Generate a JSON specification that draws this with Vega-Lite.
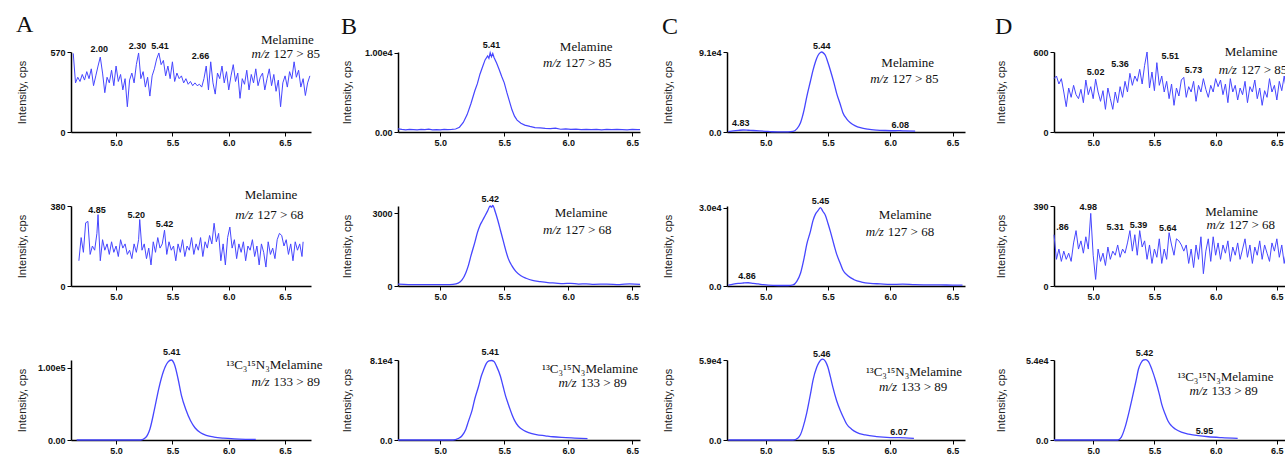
{
"$schema": "https://vega.github.io/schema/vega-lite/v6.json",
"padding": {"left": 16, "top": 13, "right": 0, "bottom": 0},
"background": "white",
"config": {
 "view": {"stroke": null},
 "axis": {"grid": false, "domainColor": "#000", "domainWidth": 1.5, "tickColor": "#000", "tickSize": 4, "tickWidth": 1, "labelFont": "Liberation Sans", "labelFontSize": 9, "labelFontWeight": "bold", "labelColor": "#111", "titleFont": "Liberation Sans", "titleFontSize": 11, "titleFontWeight": "normal", "titleColor": "#222"},
 "text": {"font": "Liberation Sans", "fontSize": 9, "fontWeight": "bold", "color": "#111"},
 "line": {"color": "#4646ff", "strokeWidth": 1},
 "title": {"font": "Liberation Serif", "fontSize": 24, "fontWeight": "normal", "anchor": "start", "frame": "bounds", "color": "#111"}
},
"datasets": {
 "A1": [{"t":4.62,"v":560},{"t":4.64,"v":350},{"t":4.66,"v":390},{"t":4.68,"v":360},{"t":4.70,"v":410},{"t":4.72,"v":370},{"t":4.74,"v":430},{"t":4.76,"v":380},{"t":4.78,"v":450},{"t":4.80,"v":330},{"t":4.82,"v":400},{"t":4.84,"v":470},{"t":4.86,"v":534},{"t":4.88,"v":420},{"t":4.90,"v":280},{"t":4.92,"v":390},{"t":4.94,"v":350},{"t":4.96,"v":440},{"t":4.98,"v":330},{"t":5.00,"v":470},{"t":5.02,"v":360},{"t":5.04,"v":410},{"t":5.06,"v":300},{"t":5.08,"v":380},{"t":5.10,"v":180},{"t":5.12,"v":370},{"t":5.14,"v":420},{"t":5.16,"v":350},{"t":5.18,"v":480},{"t":5.20,"v":563},{"t":5.22,"v":380},{"t":5.24,"v":430},{"t":5.26,"v":320},{"t":5.28,"v":390},{"t":5.30,"v":256},{"t":5.32,"v":400},{"t":5.34,"v":450},{"t":5.36,"v":520},{"t":5.38,"v":563},{"t":5.40,"v":480},{"t":5.42,"v":510},{"t":5.44,"v":400},{"t":5.46,"v":470},{"t":5.48,"v":380},{"t":5.50,"v":500},{"t":5.52,"v":360},{"t":5.54,"v":420},{"t":5.56,"v":380},{"t":5.58,"v":400},{"t":5.60,"v":350},{"t":5.62,"v":380},{"t":5.64,"v":340},{"t":5.66,"v":360},{"t":5.68,"v":330},{"t":5.70,"v":350},{"t":5.72,"v":330},{"t":5.74,"v":340},{"t":5.76,"v":320},{"t":5.78,"v":380},{"t":5.80,"v":470},{"t":5.82,"v":300},{"t":5.84,"v":500},{"t":5.86,"v":350},{"t":5.88,"v":270},{"t":5.90,"v":420},{"t":5.92,"v":380},{"t":5.94,"v":470},{"t":5.96,"v":350},{"t":5.98,"v":430},{"t":6.00,"v":300},{"t":6.02,"v":400},{"t":6.04,"v":480},{"t":6.06,"v":360},{"t":6.08,"v":420},{"t":6.10,"v":240},{"t":6.12,"v":380},{"t":6.14,"v":340},{"t":6.16,"v":440},{"t":6.18,"v":300},{"t":6.20,"v":410},{"t":6.22,"v":350},{"t":6.24,"v":450},{"t":6.26,"v":330},{"t":6.28,"v":390},{"t":6.30,"v":420},{"t":6.32,"v":300},{"t":6.34,"v":380},{"t":6.36,"v":450},{"t":6.38,"v":330},{"t":6.40,"v":410},{"t":6.42,"v":290},{"t":6.44,"v":370},{"t":6.46,"v":180},{"t":6.48,"v":350},{"t":6.50,"v":400},{"t":6.52,"v":320},{"t":6.54,"v":430},{"t":6.56,"v":380},{"t":6.58,"v":500},{"t":6.60,"v":390},{"t":6.62,"v":440},{"t":6.64,"v":320},{"t":6.66,"v":380},{"t":6.68,"v":260},{"t":6.70,"v":350},{"t":6.72,"v":400}],
 "A2": [{"t":4.67,"v":120},{"t":4.69,"v":230},{"t":4.71,"v":160},{"t":4.73,"v":300},{"t":4.75,"v":307},{"t":4.77,"v":150},{"t":4.79,"v":190},{"t":4.81,"v":170},{"t":4.83,"v":250},{"t":4.84,"v":339},{"t":4.86,"v":120},{"t":4.88,"v":220},{"t":4.90,"v":170},{"t":4.92,"v":200},{"t":4.94,"v":150},{"t":4.96,"v":210},{"t":4.98,"v":160},{"t":5.00,"v":190},{"t":5.02,"v":140},{"t":5.04,"v":220},{"t":5.06,"v":180},{"t":5.08,"v":200},{"t":5.10,"v":150},{"t":5.12,"v":170},{"t":5.14,"v":130},{"t":5.16,"v":200},{"t":5.18,"v":160},{"t":5.20,"v":220},{"t":5.21,"v":316},{"t":5.23,"v":170},{"t":5.25,"v":200},{"t":5.27,"v":130},{"t":5.29,"v":180},{"t":5.31,"v":100},{"t":5.33,"v":210},{"t":5.35,"v":160},{"t":5.37,"v":230},{"t":5.39,"v":180},{"t":5.41,"v":200},{"t":5.43,"v":265},{"t":5.45,"v":150},{"t":5.47,"v":210},{"t":5.49,"v":170},{"t":5.51,"v":190},{"t":5.53,"v":120},{"t":5.55,"v":200},{"t":5.57,"v":160},{"t":5.59,"v":220},{"t":5.61,"v":140},{"t":5.63,"v":190},{"t":5.65,"v":170},{"t":5.67,"v":230},{"t":5.69,"v":150},{"t":5.71,"v":200},{"t":5.73,"v":170},{"t":5.75,"v":230},{"t":5.77,"v":140},{"t":5.79,"v":210},{"t":5.81,"v":180},{"t":5.83,"v":240},{"t":5.85,"v":200},{"t":5.87,"v":298},{"t":5.89,"v":210},{"t":5.91,"v":250},{"t":5.93,"v":120},{"t":5.95,"v":200},{"t":5.97,"v":100},{"t":5.99,"v":230},{"t":6.01,"v":280},{"t":6.03,"v":180},{"t":6.05,"v":220},{"t":6.07,"v":130},{"t":6.09,"v":200},{"t":6.11,"v":160},{"t":6.13,"v":210},{"t":6.15,"v":120},{"t":6.17,"v":190},{"t":6.19,"v":170},{"t":6.21,"v":220},{"t":6.23,"v":140},{"t":6.25,"v":190},{"t":6.27,"v":100},{"t":6.29,"v":200},{"t":6.31,"v":160},{"t":6.33,"v":90},{"t":6.35,"v":210},{"t":6.37,"v":150},{"t":6.39,"v":180},{"t":6.41,"v":130},{"t":6.43,"v":220},{"t":6.45,"v":250},{"t":6.47,"v":240},{"t":6.49,"v":190},{"t":6.51,"v":220},{"t":6.53,"v":150},{"t":6.55,"v":200},{"t":6.57,"v":120},{"t":6.59,"v":210},{"t":6.61,"v":170},{"t":6.63,"v":200},{"t":6.65,"v":140},{"t":6.66,"v":210}],
 "A3": [{"t":4.65,"v":0},{"t":5.22,"v":0},{"t":5.26,"v":3000},{"t":5.30,"v":15000},{"t":5.34,"v":42000},{"t":5.38,"v":72000},{"t":5.42,"v":95000},{"t":5.46,"v":108000},{"t":5.49,"v":111000},{"t":5.52,"v":104000},{"t":5.55,"v":85000},{"t":5.58,"v":62000},{"t":5.62,"v":42000},{"t":5.66,"v":27000},{"t":5.70,"v":17000},{"t":5.75,"v":10000},{"t":5.80,"v":6500},{"t":5.87,"v":4000},{"t":5.95,"v":2500},{"t":6.05,"v":1500},{"t":6.15,"v":1000},{"t":6.24,"v":800}],
 "B1": [{"t":4.67,"v":400},{"t":4.70,"v":320},{"t":4.73,"v":280},{"t":4.76,"v":340},{"t":4.79,"v":300},{"t":4.82,"v":260},{"t":4.85,"v":330},{"t":4.88,"v":290},{"t":4.91,"v":350},{"t":4.94,"v":280},{"t":4.97,"v":310},{"t":5.00,"v":270},{"t":5.03,"v":330},{"t":5.06,"v":290},{"t":5.09,"v":320},{"t":5.12,"v":380},{"t":5.15,"v":600},{"t":5.18,"v":1200},{"t":5.21,"v":2200},{"t":5.24,"v":3600},{"t":5.27,"v":5200},{"t":5.29,"v":6100},{"t":5.31,"v":7300},{"t":5.33,"v":8200},{"t":5.35,"v":9100},{"t":5.37,"v":9600},{"t":5.38,"v":9300},{"t":5.39,"v":10000},{"t":5.40,"v":9500},{"t":5.41,"v":9900},{"t":5.42,"v":9400},{"t":5.44,"v":8700},{"t":5.46,"v":7900},{"t":5.48,"v":7000},{"t":5.50,"v":6200},{"t":5.52,"v":5000},{"t":5.54,"v":3900},{"t":5.56,"v":2800},{"t":5.58,"v":2000},{"t":5.60,"v":1500},{"t":5.63,"v":1100},{"t":5.66,"v":870},{"t":5.70,"v":700},{"t":5.74,"v":560},{"t":5.78,"v":520},{"t":5.82,"v":450},{"t":5.86,"v":420},{"t":5.90,"v":480},{"t":5.94,"v":350},{"t":5.98,"v":390},{"t":6.02,"v":330},{"t":6.06,"v":360},{"t":6.10,"v":300},{"t":6.14,"v":340},{"t":6.18,"v":290},{"t":6.22,"v":330},{"t":6.26,"v":280},{"t":6.30,"v":320},{"t":6.34,"v":290},{"t":6.38,"v":340},{"t":6.42,"v":300},{"t":6.46,"v":260},{"t":6.50,"v":330},{"t":6.54,"v":290},{"t":6.56,"v":310}],
 "B2": [{"t":4.67,"v":80},{"t":4.75,"v":60},{"t":4.85,"v":55},{"t":4.95,"v":60},{"t":5.05,"v":55},{"t":5.10,"v":70},{"t":5.14,"v":120},{"t":5.17,"v":250},{"t":5.20,"v":550},{"t":5.22,"v":850},{"t":5.24,"v":1250},{"t":5.27,"v":1800},{"t":5.29,"v":2200},{"t":5.31,"v":2500},{"t":5.33,"v":2700},{"t":5.35,"v":2900},{"t":5.37,"v":3100},{"t":5.39,"v":3300},{"t":5.40,"v":3250},{"t":5.41,"v":3320},{"t":5.43,"v":3050},{"t":5.45,"v":2700},{"t":5.47,"v":2300},{"t":5.49,"v":1900},{"t":5.51,"v":1500},{"t":5.53,"v":1150},{"t":5.56,"v":830},{"t":5.59,"v":600},{"t":5.63,"v":420},{"t":5.67,"v":320},{"t":5.72,"v":230},{"t":5.78,"v":180},{"t":5.84,"v":140},{"t":5.90,"v":120},{"t":5.96,"v":100},{"t":6.02,"v":110},{"t":6.08,"v":80},{"t":6.14,"v":90},{"t":6.20,"v":70},{"t":6.30,"v":80},{"t":6.40,"v":60},{"t":6.48,"v":90},{"t":6.56,"v":70}],
 "B3": [{"t":4.67,"v":0},{"t":5.10,"v":0},{"t":5.14,"v":1500},{"t":5.17,"v":4300},{"t":5.20,"v":11000},{"t":5.22,"v":19000},{"t":5.25,"v":31000},{"t":5.27,"v":42000},{"t":5.30,"v":55000},{"t":5.32,"v":65000},{"t":5.34,"v":72000},{"t":5.36,"v":78000},{"t":5.38,"v":80500},{"t":5.40,"v":81000},{"t":5.42,"v":80000},{"t":5.44,"v":75000},{"t":5.47,"v":65000},{"t":5.49,"v":55000},{"t":5.51,"v":45000},{"t":5.53,"v":37000},{"t":5.56,"v":26000},{"t":5.58,"v":20000},{"t":5.61,"v":14000},{"t":5.65,"v":10000},{"t":5.69,"v":7600},{"t":5.75,"v":5500},{"t":5.82,"v":4300},{"t":5.88,"v":3300},{"t":5.95,"v":2600},{"t":6.05,"v":2000},{"t":6.15,"v":1500}],
 "C1": [{"t":4.70,"v":500},{"t":4.74,"v":1200},{"t":4.78,"v":1800},{"t":4.82,"v":2300},{"t":4.86,"v":2000},{"t":4.90,"v":1700},{"t":4.95,"v":1300},{"t":5.00,"v":800},{"t":5.05,"v":300},{"t":5.10,"v":200},{"t":5.18,"v":200},{"t":5.22,"v":600},{"t":5.25,"v":3500},{"t":5.28,"v":10500},{"t":5.31,"v":26000},{"t":5.33,"v":40000},{"t":5.36,"v":58000},{"t":5.38,"v":70000},{"t":5.40,"v":80000},{"t":5.42,"v":87000},{"t":5.44,"v":90500},{"t":5.45,"v":91000},{"t":5.47,"v":89000},{"t":5.48,"v":87000},{"t":5.50,"v":79000},{"t":5.52,"v":70000},{"t":5.55,"v":55000},{"t":5.57,"v":44000},{"t":5.60,"v":31000},{"t":5.62,"v":22000},{"t":5.65,"v":15000},{"t":5.68,"v":10500},{"t":5.72,"v":7000},{"t":5.76,"v":4900},{"t":5.82,"v":3200},{"t":5.89,"v":2200},{"t":5.96,"v":1700},{"t":6.04,"v":1400},{"t":6.08,"v":1600},{"t":6.12,"v":1200},{"t":6.20,"v":1000}],
 "C2": [{"t":4.70,"v":300},{"t":4.74,"v":700},{"t":4.78,"v":1000},{"t":4.82,"v":1150},{"t":4.86,"v":1250},{"t":4.90,"v":1000},{"t":4.94,"v":800},{"t":4.98,"v":500},{"t":5.02,"v":300},{"t":5.10,"v":200},{"t":5.18,"v":200},{"t":5.22,"v":400},{"t":5.25,"v":1800},{"t":5.28,"v":4900},{"t":5.31,"v":11000},{"t":5.33,"v":15900},{"t":5.36,"v":21000},{"t":5.38,"v":25000},{"t":5.40,"v":27500},{"t":5.42,"v":28800},{"t":5.44,"v":30000},{"t":5.46,"v":28500},{"t":5.48,"v":27000},{"t":5.50,"v":24000},{"t":5.52,"v":20800},{"t":5.55,"v":15500},{"t":5.57,"v":12200},{"t":5.60,"v":8500},{"t":5.62,"v":6100},{"t":5.66,"v":3900},{"t":5.71,"v":2400},{"t":5.77,"v":1500},{"t":5.84,"v":1000},{"t":5.92,"v":800},{"t":6.00,"v":600},{"t":6.10,"v":700},{"t":6.20,"v":500},{"t":6.30,"v":450},{"t":6.40,"v":400},{"t":6.50,"v":350},{"t":6.58,"v":300}],
 "C3": [{"t":4.70,"v":0},{"t":5.22,"v":0},{"t":5.26,"v":1500},{"t":5.28,"v":4000},{"t":5.30,"v":9300},{"t":5.33,"v":20000},{"t":5.36,"v":34000},{"t":5.38,"v":44000},{"t":5.41,"v":53600},{"t":5.43,"v":57500},{"t":5.45,"v":59500},{"t":5.46,"v":59700},{"t":5.48,"v":58000},{"t":5.50,"v":53600},{"t":5.52,"v":46500},{"t":5.54,"v":38800},{"t":5.57,"v":29000},{"t":5.60,"v":21600},{"t":5.63,"v":15500},{"t":5.65,"v":11800},{"t":5.69,"v":8000},{"t":5.73,"v":5600},{"t":5.80,"v":3700},{"t":5.89,"v":2500},{"t":6.00,"v":1800},{"t":6.07,"v":1700},{"t":6.19,"v":1200}],
 "D1": [{"t":4.68,"v":400},{"t":4.70,"v":420},{"t":4.72,"v":360},{"t":4.74,"v":400},{"t":4.76,"v":300},{"t":4.78,"v":190},{"t":4.80,"v":330},{"t":4.82,"v":260},{"t":4.84,"v":350},{"t":4.86,"v":280},{"t":4.88,"v":250},{"t":4.90,"v":320},{"t":4.92,"v":220},{"t":4.94,"v":390},{"t":4.96,"v":280},{"t":4.98,"v":340},{"t":5.00,"v":250},{"t":5.02,"v":396},{"t":5.04,"v":300},{"t":5.06,"v":230},{"t":5.08,"v":310},{"t":5.10,"v":170},{"t":5.12,"v":330},{"t":5.14,"v":250},{"t":5.16,"v":170},{"t":5.18,"v":300},{"t":5.20,"v":220},{"t":5.22,"v":340},{"t":5.24,"v":260},{"t":5.26,"v":380},{"t":5.28,"v":300},{"t":5.30,"v":440},{"t":5.32,"v":350},{"t":5.34,"v":420},{"t":5.36,"v":380},{"t":5.38,"v":470},{"t":5.40,"v":360},{"t":5.42,"v":500},{"t":5.44,"v":600},{"t":5.46,"v":330},{"t":5.48,"v":450},{"t":5.50,"v":310},{"t":5.52,"v":520},{"t":5.54,"v":350},{"t":5.56,"v":420},{"t":5.58,"v":300},{"t":5.60,"v":380},{"t":5.62,"v":250},{"t":5.64,"v":360},{"t":5.66,"v":200},{"t":5.68,"v":330},{"t":5.70,"v":270},{"t":5.72,"v":390},{"t":5.74,"v":410},{"t":5.76,"v":260},{"t":5.78,"v":340},{"t":5.80,"v":300},{"t":5.82,"v":380},{"t":5.84,"v":230},{"t":5.86,"v":350},{"t":5.88,"v":300},{"t":5.90,"v":400},{"t":5.92,"v":320},{"t":5.94,"v":260},{"t":5.96,"v":350},{"t":5.98,"v":300},{"t":6.00,"v":400},{"t":6.02,"v":340},{"t":6.04,"v":390},{"t":6.06,"v":280},{"t":6.08,"v":360},{"t":6.10,"v":220},{"t":6.12,"v":400},{"t":6.14,"v":300},{"t":6.16,"v":350},{"t":6.18,"v":240},{"t":6.20,"v":330},{"t":6.22,"v":280},{"t":6.24,"v":380},{"t":6.26,"v":220},{"t":6.28,"v":340},{"t":6.30,"v":300},{"t":6.32,"v":390},{"t":6.34,"v":250},{"t":6.36,"v":330},{"t":6.38,"v":200},{"t":6.40,"v":310},{"t":6.42,"v":260},{"t":6.44,"v":400},{"t":6.46,"v":300},{"t":6.48,"v":350},{"t":6.50,"v":240},{"t":6.52,"v":380},{"t":6.54,"v":310},{"t":6.56,"v":420},{"t":6.58,"v":300},{"t":6.60,"v":340},{"t":6.62,"v":260},{"t":6.64,"v":330}],
 "D2": [{"t":4.68,"v":250},{"t":4.70,"v":130},{"t":4.72,"v":180},{"t":4.74,"v":120},{"t":4.76,"v":170},{"t":4.78,"v":130},{"t":4.80,"v":160},{"t":4.82,"v":120},{"t":4.84,"v":210},{"t":4.86,"v":270},{"t":4.88,"v":180},{"t":4.90,"v":220},{"t":4.92,"v":160},{"t":4.94,"v":240},{"t":4.96,"v":180},{"t":4.98,"v":354},{"t":5.00,"v":150},{"t":5.02,"v":32},{"t":5.04,"v":180},{"t":5.06,"v":120},{"t":5.08,"v":160},{"t":5.10,"v":100},{"t":5.12,"v":190},{"t":5.14,"v":130},{"t":5.16,"v":170},{"t":5.18,"v":150},{"t":5.20,"v":200},{"t":5.22,"v":140},{"t":5.24,"v":180},{"t":5.26,"v":160},{"t":5.28,"v":210},{"t":5.30,"v":270},{"t":5.32,"v":170},{"t":5.34,"v":250},{"t":5.36,"v":150},{"t":5.38,"v":270},{"t":5.40,"v":190},{"t":5.42,"v":220},{"t":5.44,"v":130},{"t":5.46,"v":200},{"t":5.48,"v":110},{"t":5.50,"v":180},{"t":5.52,"v":140},{"t":5.54,"v":230},{"t":5.56,"v":110},{"t":5.58,"v":180},{"t":5.60,"v":130},{"t":5.62,"v":260},{"t":5.64,"v":200},{"t":5.66,"v":150},{"t":5.68,"v":230},{"t":5.70,"v":220},{"t":5.72,"v":200},{"t":5.74,"v":170},{"t":5.76,"v":200},{"t":5.78,"v":110},{"t":5.80,"v":180},{"t":5.82,"v":90},{"t":5.84,"v":200},{"t":5.86,"v":130},{"t":5.88,"v":240},{"t":5.90,"v":60},{"t":5.92,"v":170},{"t":5.94,"v":230},{"t":5.96,"v":120},{"t":5.98,"v":240},{"t":6.00,"v":150},{"t":6.02,"v":210},{"t":6.04,"v":130},{"t":6.06,"v":200},{"t":6.08,"v":160},{"t":6.10,"v":220},{"t":6.12,"v":120},{"t":6.14,"v":190},{"t":6.16,"v":150},{"t":6.18,"v":210},{"t":6.20,"v":130},{"t":6.22,"v":180},{"t":6.24,"v":230},{"t":6.26,"v":140},{"t":6.28,"v":200},{"t":6.30,"v":110},{"t":6.32,"v":190},{"t":6.34,"v":150},{"t":6.36,"v":220},{"t":6.38,"v":130},{"t":6.40,"v":200},{"t":6.42,"v":160},{"t":6.44,"v":120},{"t":6.46,"v":210},{"t":6.48,"v":170},{"t":6.50,"v":230},{"t":6.52,"v":140},{"t":6.54,"v":200},{"t":6.56,"v":110},{"t":6.58,"v":180},{"t":6.60,"v":150},{"t":6.62,"v":210},{"t":6.64,"v":130}],
 "D3": [{"t":4.68,"v":0},{"t":5.20,"v":0},{"t":5.23,"v":2000},{"t":5.26,"v":8500},{"t":5.29,"v":18000},{"t":5.32,"v":28800},{"t":5.35,"v":40000},{"t":5.37,"v":47900},{"t":5.39,"v":52000},{"t":5.41,"v":54000},{"t":5.43,"v":54200},{"t":5.45,"v":53000},{"t":5.48,"v":47500},{"t":5.51,"v":40000},{"t":5.54,"v":31000},{"t":5.56,"v":24000},{"t":5.59,"v":17000},{"t":5.61,"v":13000},{"t":5.64,"v":9500},{"t":5.67,"v":7400},{"t":5.72,"v":5300},{"t":5.78,"v":4000},{"t":5.86,"v":2900},{"t":5.94,"v":2200},{"t":6.05,"v":1600},{"t":6.18,"v":1100}],
 "A1L": [{"t":4.85,"v":591,"label":"2.00"},{"t":5.19,"v":613,"label":"2.30"},{"t":5.39,"v":613,"label":"5.41"},{"t":5.75,"v":541,"label":"2.66"}],
 "A2L": [{"t":4.83,"v":362,"label":"4.85"},{"t":5.18,"v":339,"label":"5.20"},{"t":5.43,"v":293,"label":"5.42"}],
 "A3L": [{"t":5.495,"v":122000,"label":"5.41"}],
 "B1L": [{"t":5.40,"v":11040,"label":"5.41"}],
 "B2L": [{"t":5.39,"v":3575,"label":"5.42"}],
 "B3L": [{"t":5.39,"v":89900,"label":"5.41"}],
 "C1L": [{"t":4.80,"v":10800,"label":"4.83"},{"t":5.45,"v":98000,"label":"5.44"},{"t":6.08,"v":7500,"label":"6.08"}],
 "C2L": [{"t":4.85,"v":3670,"label":"4.86"},{"t":5.44,"v":32500,"label":"5.45"}],
 "C3L": [{"t":5.45,"v":63400,"label":"5.46"},{"t":6.07,"v":5700,"label":"6.07"}],
 "D1L": [{"t":5.02,"v":452,"label":"5.02"},{"t":5.22,"v":511,"label":"5.36"},{"t":5.63,"v":570,"label":"5.51"},{"t":5.82,"v":467,"label":"5.73"}],
 "D2L": [{"t":4.75,"v":290,"label":".86"},{"t":4.96,"v":387,"label":"4.98"},{"t":5.18,"v":290,"label":"5.31"},{"t":5.37,"v":298,"label":"5.39"},{"t":5.61,"v":282,"label":"5.64"}],
 "D3L": [{"t":5.42,"v":59000,"label":"5.42"},{"t":5.91,"v":6300,"label":"5.95"}]
},
"spacing": 18,
"hconcat": [
 {"bounds": "flush", "spacing": 74, "vconcat": [
  {"width": 240, "height": 80, "title": {"text": "A", "offset": -3}, "layer": [
   {"data": {"name": "A1"}, "mark": {"type": "line"}, "encoding": {"x": {"field": "t", "type": "quantitative", "scale": {"domain": [4.6, 6.73], "nice": false, "zero": false}, "axis": {"values": [5, 5.5, 6, 6.5], "format": ".1f", "title": null}}, "y": {"field": "v", "type": "quantitative", "scale": {"domain": [0, 570], "nice": false}, "axis": {"values": [0, 200, 400, 570], "format": "d", "title": "Intensity, cps", "titleX": -44, "titleY": 40}}}},
   {"data": {"name": "A1L"}, "mark": {"type": "text"}, "encoding": {"x": {"field": "t", "type": "quantitative", "scale": {"domain": [4.6, 6.73], "nice": false, "zero": false}}, "y": {"field": "v", "type": "quantitative", "scale": {"domain": [0, 570], "nice": false}}, "text": {"field": "label"}}},
   {"data": {"values": [{}]}, "mark": {"type": "text", "text": "Melamine", "font": "Liberation Serif", "fontSize": 13, "fontWeight": "normal"}, "encoding": {"x": {"datum": 6.52, "type": "quantitative", "scale": {"domain": [4.6, 6.73], "nice": false, "zero": false}}, "y": {"datum": 655, "type": "quantitative", "scale": {"domain": [0, 570], "nice": false}}}},
   {"data": {"values": [{}]}, "mark": {"type": "text", "text": "m/z", "font": "Liberation Serif", "fontSize": 13, "fontWeight": "normal", "fontStyle": "italic", "align": "right", "dx": -2}, "encoding": {"x": {"datum": 6.38, "type": "quantitative", "scale": {"domain": [4.6, 6.73], "nice": false, "zero": false}}, "y": {"datum": 556, "type": "quantitative", "scale": {"domain": [0, 570], "nice": false}}}},
   {"data": {"values": [{}]}, "mark": {"type": "text", "text": "127 > 85", "font": "Liberation Serif", "fontSize": 13, "fontWeight": "normal", "align": "left", "dx": 2}, "encoding": {"x": {"datum": 6.38, "type": "quantitative", "scale": {"domain": [4.6, 6.73], "nice": false, "zero": false}}, "y": {"datum": 556, "type": "quantitative", "scale": {"domain": [0, 570], "nice": false}}}}
  ]},
  {"width": 240, "height": 80, "layer": [
   {"data": {"name": "A2"}, "mark": {"type": "line"}, "encoding": {"x": {"field": "t", "type": "quantitative", "scale": {"domain": [4.6, 6.73], "nice": false, "zero": false}, "axis": {"values": [5, 5.5, 6, 6.5], "format": ".1f", "title": null}}, "y": {"field": "v", "type": "quantitative", "scale": {"domain": [0, 380], "nice": false}, "axis": {"values": [0, 100, 200, 300, 380], "format": "d", "title": "Intensity, cps", "titleX": -44, "titleY": 40}}}},
   {"data": {"name": "A2L"}, "mark": {"type": "text"}, "encoding": {"x": {"field": "t", "type": "quantitative", "scale": {"domain": [4.6, 6.73], "nice": false, "zero": false}}, "y": {"field": "v", "type": "quantitative", "scale": {"domain": [0, 380], "nice": false}}, "text": {"field": "label"}}},
   {"data": {"values": [{}]}, "mark": {"type": "text", "text": "Melamine", "font": "Liberation Serif", "fontSize": 13, "fontWeight": "normal"}, "encoding": {"x": {"datum": 6.375, "type": "quantitative", "scale": {"domain": [4.6, 6.73], "nice": false, "zero": false}}, "y": {"datum": 430, "type": "quantitative", "scale": {"domain": [0, 380], "nice": false}}}},
   {"data": {"values": [{}]}, "mark": {"type": "text", "text": "m/z", "font": "Liberation Serif", "fontSize": 13, "fontWeight": "normal", "fontStyle": "italic", "align": "right", "dx": -2}, "encoding": {"x": {"datum": 6.235, "type": "quantitative", "scale": {"domain": [4.6, 6.73], "nice": false, "zero": false}}, "y": {"datum": 339, "type": "quantitative", "scale": {"domain": [0, 380], "nice": false}}}},
   {"data": {"values": [{}]}, "mark": {"type": "text", "text": "127 > 68", "font": "Liberation Serif", "fontSize": 13, "fontWeight": "normal", "align": "left", "dx": 2}, "encoding": {"x": {"datum": 6.235, "type": "quantitative", "scale": {"domain": [4.6, 6.73], "nice": false, "zero": false}}, "y": {"datum": 339, "type": "quantitative", "scale": {"domain": [0, 380], "nice": false}}}}
  ]},
  {"width": 240, "height": 80, "layer": [
   {"data": {"name": "A3"}, "mark": {"type": "line", "interpolate": "monotone", "strokeWidth": 1.3}, "encoding": {"x": {"field": "t", "type": "quantitative", "scale": {"domain": [4.6, 6.73], "nice": false, "zero": false}, "axis": {"values": [5, 5.5, 6, 6.5], "format": ".1f", "title": null}}, "y": {"field": "v", "type": "quantitative", "scale": {"domain": [0, 111000], "nice": false}, "axis": {"values": [0, 50000, 100000], "labelExpr": "datum.value==0?'0.00':datum.value>=100000?'1.00e5':format(datum.value/10000,'.2f')+'e4'", "title": "Intensity, cps", "titleX": -44, "titleY": 40}}}},
   {"data": {"name": "A3L"}, "mark": {"type": "text"}, "encoding": {"x": {"field": "t", "type": "quantitative", "scale": {"domain": [4.6, 6.73], "nice": false, "zero": false}}, "y": {"field": "v", "type": "quantitative", "scale": {"domain": [0, 111000], "nice": false}}, "text": {"field": "label"}}},
   {"data": {"values": [{}]}, "mark": {"type": "text", "text": "¹³C₃¹⁵N₃Melamine", "font": "Liberation Serif", "fontSize": 13, "fontWeight": "normal"}, "encoding": {"x": {"datum": 6.405, "type": "quantitative", "scale": {"domain": [4.6, 6.73], "nice": false, "zero": false}}, "y": {"datum": 104000, "type": "quantitative", "scale": {"domain": [0, 111000], "nice": false}}}},
   {"data": {"values": [{}]}, "mark": {"type": "text", "text": "m/z", "font": "Liberation Serif", "fontSize": 13, "fontWeight": "normal", "fontStyle": "italic", "align": "right", "dx": -2}, "encoding": {"x": {"datum": 6.38, "type": "quantitative", "scale": {"domain": [4.6, 6.73], "nice": false, "zero": false}}, "y": {"datum": 81000, "type": "quantitative", "scale": {"domain": [0, 111000], "nice": false}}}},
   {"data": {"values": [{}]}, "mark": {"type": "text", "text": "133 > 89", "font": "Liberation Serif", "fontSize": 13, "fontWeight": "normal", "align": "left", "dx": 2}, "encoding": {"x": {"datum": 6.38, "type": "quantitative", "scale": {"domain": [4.6, 6.73], "nice": false, "zero": false}}, "y": {"datum": 81000, "type": "quantitative", "scale": {"domain": [0, 111000], "nice": false}}}}
  ]}
 ]},
 {"spacing": 19, "hconcat": [
 {"bounds": "flush", "spacing": 74, "vconcat": [
  {"width": 242, "height": 80, "title": {"text": "B", "offset": 2}, "layer": [
   {"data": {"name": "B1"}, "mark": {"type": "line", "strokeWidth": 1.2}, "encoding": {"x": {"field": "t", "type": "quantitative", "scale": {"domain": [4.67, 6.56], "nice": false, "zero": false}, "axis": {"values": [5, 5.5, 6, 6.5], "format": ".1f", "title": null}}, "y": {"field": "v", "type": "quantitative", "scale": {"domain": [0, 10100], "nice": false}, "axis": {"values": [0, 5000, 10000], "labelExpr": "datum.value==0?'0.00':datum.value>=10000?'1.00e4':format(datum.value,'.2f')", "title": "Intensity, cps", "titleX": -46, "titleY": 40}}}},
   {"data": {"name": "B1L"}, "mark": {"type": "text"}, "encoding": {"x": {"field": "t", "type": "quantitative", "scale": {"domain": [4.67, 6.56], "nice": false, "zero": false}}, "y": {"field": "v", "type": "quantitative", "scale": {"domain": [0, 10100], "nice": false}}, "text": {"field": "label"}}},
   {"data": {"values": [{}]}, "mark": {"type": "text", "text": "Melamine", "font": "Liberation Serif", "fontSize": 13, "fontWeight": "normal"}, "encoding": {"x": {"datum": 6.14, "type": "quantitative", "scale": {"domain": [4.67, 6.56], "nice": false, "zero": false}}, "y": {"datum": 10780, "type": "quantitative", "scale": {"domain": [0, 10100], "nice": false}}}},
   {"data": {"values": [{}]}, "mark": {"type": "text", "text": "m/z", "font": "Liberation Serif", "fontSize": 13, "fontWeight": "normal", "fontStyle": "italic", "align": "right", "dx": -2}, "encoding": {"x": {"datum": 5.96, "type": "quantitative", "scale": {"domain": [4.67, 6.56], "nice": false, "zero": false}}, "y": {"datum": 8700, "type": "quantitative", "scale": {"domain": [0, 10100], "nice": false}}}},
   {"data": {"values": [{}]}, "mark": {"type": "text", "text": "127 > 85", "font": "Liberation Serif", "fontSize": 13, "fontWeight": "normal", "align": "left", "dx": 2}, "encoding": {"x": {"datum": 5.96, "type": "quantitative", "scale": {"domain": [4.67, 6.56], "nice": false, "zero": false}}, "y": {"datum": 8700, "type": "quantitative", "scale": {"domain": [0, 10100], "nice": false}}}}
  ]},
  {"width": 242, "height": 80, "layer": [
   {"data": {"name": "B2"}, "mark": {"type": "line", "interpolate": "monotone", "strokeWidth": 1.3}, "encoding": {"x": {"field": "t", "type": "quantitative", "scale": {"domain": [4.67, 6.56], "nice": false, "zero": false}, "axis": {"values": [5, 5.5, 6, 6.5], "format": ".1f", "title": null}}, "y": {"field": "v", "type": "quantitative", "scale": {"domain": [0, 3300], "nice": false}, "axis": {"values": [0, 1000, 2000, 3000], "format": "d", "title": "Intensity, cps", "titleX": -46, "titleY": 40}}}},
   {"data": {"name": "B2L"}, "mark": {"type": "text"}, "encoding": {"x": {"field": "t", "type": "quantitative", "scale": {"domain": [4.67, 6.56], "nice": false, "zero": false}}, "y": {"field": "v", "type": "quantitative", "scale": {"domain": [0, 3300], "nice": false}}, "text": {"field": "label"}}},
   {"data": {"values": [{}]}, "mark": {"type": "text", "text": "Melamine", "font": "Liberation Serif", "fontSize": 13, "fontWeight": "normal"}, "encoding": {"x": {"datum": 6.10, "type": "quantitative", "scale": {"domain": [4.67, 6.56], "nice": false, "zero": false}}, "y": {"datum": 3000, "type": "quantitative", "scale": {"domain": [0, 3300], "nice": false}}}},
   {"data": {"values": [{}]}, "mark": {"type": "text", "text": "m/z", "font": "Liberation Serif", "fontSize": 13, "fontWeight": "normal", "fontStyle": "italic", "align": "right", "dx": -2}, "encoding": {"x": {"datum": 5.96, "type": "quantitative", "scale": {"domain": [4.67, 6.56], "nice": false, "zero": false}}, "y": {"datum": 2300, "type": "quantitative", "scale": {"domain": [0, 3300], "nice": false}}}},
   {"data": {"values": [{}]}, "mark": {"type": "text", "text": "127 > 68", "font": "Liberation Serif", "fontSize": 13, "fontWeight": "normal", "align": "left", "dx": 2}, "encoding": {"x": {"datum": 5.96, "type": "quantitative", "scale": {"domain": [4.67, 6.56], "nice": false, "zero": false}}, "y": {"datum": 2300, "type": "quantitative", "scale": {"domain": [0, 3300], "nice": false}}}}
  ]},
  {"width": 242, "height": 80, "layer": [
   {"data": {"name": "B3"}, "mark": {"type": "line", "interpolate": "monotone", "strokeWidth": 1.3}, "encoding": {"x": {"field": "t", "type": "quantitative", "scale": {"domain": [4.67, 6.56], "nice": false, "zero": false}, "axis": {"values": [5, 5.5, 6, 6.5], "format": ".1f", "title": null}}, "y": {"field": "v", "type": "quantitative", "scale": {"domain": [0, 81500], "nice": false}, "axis": {"values": [0, 50000, 81000], "labelExpr": "datum.value==0?'0.0':format(datum.value/10000,'.1f')+'e4'", "title": "Intensity, cps", "titleX": -46, "titleY": 40}}}},
   {"data": {"name": "B3L"}, "mark": {"type": "text"}, "encoding": {"x": {"field": "t", "type": "quantitative", "scale": {"domain": [4.67, 6.56], "nice": false, "zero": false}}, "y": {"field": "v", "type": "quantitative", "scale": {"domain": [0, 81500], "nice": false}}, "text": {"field": "label"}}},
   {"data": {"values": [{}]}, "mark": {"type": "text", "text": "¹³C₃¹⁵N₃Melamine", "font": "Liberation Serif", "fontSize": 13, "fontWeight": "normal"}, "encoding": {"x": {"datum": 6.17, "type": "quantitative", "scale": {"domain": [4.67, 6.56], "nice": false, "zero": false}}, "y": {"datum": 72600, "type": "quantitative", "scale": {"domain": [0, 81500], "nice": false}}}},
   {"data": {"values": [{}]}, "mark": {"type": "text", "text": "m/z", "font": "Liberation Serif", "fontSize": 13, "fontWeight": "normal", "fontStyle": "italic", "align": "right", "dx": -2}, "encoding": {"x": {"datum": 6.08, "type": "quantitative", "scale": {"domain": [4.67, 6.56], "nice": false, "zero": false}}, "y": {"datum": 58000, "type": "quantitative", "scale": {"domain": [0, 81500], "nice": false}}}},
   {"data": {"values": [{}]}, "mark": {"type": "text", "text": "133 > 89", "font": "Liberation Serif", "fontSize": 13, "fontWeight": "normal", "align": "left", "dx": 2}, "encoding": {"x": {"datum": 6.08, "type": "quantitative", "scale": {"domain": [4.67, 6.56], "nice": false, "zero": false}}, "y": {"datum": 58000, "type": "quantitative", "scale": {"domain": [0, 81500], "nice": false}}}}
  ]}
 ]},
 {"spacing": 29, "hconcat": [
 {"bounds": "flush", "spacing": 74, "vconcat": [
  {"width": 238, "height": 80, "title": {"text": "C", "offset": 3}, "layer": [
   {"data": {"name": "C1"}, "mark": {"type": "line", "interpolate": "monotone", "strokeWidth": 1.3}, "encoding": {"x": {"field": "t", "type": "quantitative", "scale": {"domain": [4.69, 6.6], "nice": false, "zero": false}, "axis": {"values": [5, 5.5, 6, 6.5], "format": ".1f", "title": null}}, "y": {"field": "v", "type": "quantitative", "scale": {"domain": [0, 91000], "nice": false}, "axis": {"values": [0, 50000, 91000], "labelExpr": "datum.value==0?'0.0':format(datum.value/10000,'.1f')+'e4'", "title": "Intensity, cps", "titleX": -54, "titleY": 40}}}},
   {"data": {"name": "C1L"}, "mark": {"type": "text"}, "encoding": {"x": {"field": "t", "type": "quantitative", "scale": {"domain": [4.69, 6.6], "nice": false, "zero": false}}, "y": {"field": "v", "type": "quantitative", "scale": {"domain": [0, 91000], "nice": false}}, "text": {"field": "label"}}},
   {"data": {"values": [{}]}, "mark": {"type": "text", "text": "Melamine", "font": "Liberation Serif", "fontSize": 13, "fontWeight": "normal"}, "encoding": {"x": {"datum": 6.14, "type": "quantitative", "scale": {"domain": [4.69, 6.6], "nice": false, "zero": false}}, "y": {"datum": 78300, "type": "quantitative", "scale": {"domain": [0, 91000], "nice": false}}}},
   {"data": {"values": [{}]}, "mark": {"type": "text", "text": "m/z", "font": "Liberation Serif", "fontSize": 13, "fontWeight": "normal", "fontStyle": "italic", "align": "right", "dx": -2}, "encoding": {"x": {"datum": 6.0, "type": "quantitative", "scale": {"domain": [4.69, 6.6], "nice": false, "zero": false}}, "y": {"datum": 60000, "type": "quantitative", "scale": {"domain": [0, 91000], "nice": false}}}},
   {"data": {"values": [{}]}, "mark": {"type": "text", "text": "127 > 85", "font": "Liberation Serif", "fontSize": 13, "fontWeight": "normal", "align": "left", "dx": 2}, "encoding": {"x": {"datum": 6.0, "type": "quantitative", "scale": {"domain": [4.69, 6.6], "nice": false, "zero": false}}, "y": {"datum": 60000, "type": "quantitative", "scale": {"domain": [0, 91000], "nice": false}}}}
  ]},
  {"width": 238, "height": 80, "layer": [
   {"data": {"name": "C2"}, "mark": {"type": "line", "interpolate": "monotone", "strokeWidth": 1.3}, "encoding": {"x": {"field": "t", "type": "quantitative", "scale": {"domain": [4.69, 6.6], "nice": false, "zero": false}, "axis": {"values": [5, 5.5, 6, 6.5], "format": ".1f", "title": null}}, "y": {"field": "v", "type": "quantitative", "scale": {"domain": [0, 30600], "nice": false}, "axis": {"values": [0, 10000, 20000, 30000], "labelExpr": "datum.value==0?'0.0':format(datum.value/10000,'.1f')+'e4'", "title": "Intensity, cps", "titleX": -54, "titleY": 40}}}},
   {"data": {"name": "C2L"}, "mark": {"type": "text"}, "encoding": {"x": {"field": "t", "type": "quantitative", "scale": {"domain": [4.69, 6.6], "nice": false, "zero": false}}, "y": {"field": "v", "type": "quantitative", "scale": {"domain": [0, 30600], "nice": false}}, "text": {"field": "label"}}},
   {"data": {"values": [{}]}, "mark": {"type": "text", "text": "Melamine", "font": "Liberation Serif", "fontSize": 13, "fontWeight": "normal"}, "encoding": {"x": {"datum": 6.12, "type": "quantitative", "scale": {"domain": [4.69, 6.6], "nice": false, "zero": false}}, "y": {"datum": 27000, "type": "quantitative", "scale": {"domain": [0, 30600], "nice": false}}}},
   {"data": {"values": [{}]}, "mark": {"type": "text", "text": "m/z", "font": "Liberation Serif", "fontSize": 13, "fontWeight": "normal", "fontStyle": "italic", "align": "right", "dx": -2}, "encoding": {"x": {"datum": 5.965, "type": "quantitative", "scale": {"domain": [4.69, 6.6], "nice": false, "zero": false}}, "y": {"datum": 20800, "type": "quantitative", "scale": {"domain": [0, 30600], "nice": false}}}},
   {"data": {"values": [{}]}, "mark": {"type": "text", "text": "127 > 68", "font": "Liberation Serif", "fontSize": 13, "fontWeight": "normal", "align": "left", "dx": 2}, "encoding": {"x": {"datum": 5.965, "type": "quantitative", "scale": {"domain": [4.69, 6.6], "nice": false, "zero": false}}, "y": {"datum": 20800, "type": "quantitative", "scale": {"domain": [0, 30600], "nice": false}}}}
  ]},
  {"width": 238, "height": 80, "layer": [
   {"data": {"name": "C3"}, "mark": {"type": "line", "interpolate": "monotone", "strokeWidth": 1.3}, "encoding": {"x": {"field": "t", "type": "quantitative", "scale": {"domain": [4.69, 6.6], "nice": false, "zero": false}, "axis": {"values": [5, 5.5, 6, 6.5], "format": ".1f", "title": null}}, "y": {"field": "v", "type": "quantitative", "scale": {"domain": [0, 59000], "nice": false}, "axis": {"values": [0, 20000, 40000, 59000], "labelExpr": "datum.value==0?'0.0':format(datum.value/10000,'.1f')+'e4'", "title": "Intensity, cps", "titleX": -54, "titleY": 40}}}},
   {"data": {"name": "C3L"}, "mark": {"type": "text"}, "encoding": {"x": {"field": "t", "type": "quantitative", "scale": {"domain": [4.69, 6.6], "nice": false, "zero": false}}, "y": {"field": "v", "type": "quantitative", "scale": {"domain": [0, 59000], "nice": false}}, "text": {"field": "label"}}},
   {"data": {"values": [{}]}, "mark": {"type": "text", "text": "¹³C₃¹⁵N₃Melamine", "font": "Liberation Serif", "fontSize": 13, "fontWeight": "normal"}, "encoding": {"x": {"datum": 6.19, "type": "quantitative", "scale": {"domain": [4.69, 6.6], "nice": false, "zero": false}}, "y": {"datum": 49900, "type": "quantitative", "scale": {"domain": [0, 59000], "nice": false}}}},
   {"data": {"values": [{}]}, "mark": {"type": "text", "text": "m/z", "font": "Liberation Serif", "fontSize": 13, "fontWeight": "normal", "fontStyle": "italic", "align": "right", "dx": -2}, "encoding": {"x": {"datum": 6.07, "type": "quantitative", "scale": {"domain": [4.69, 6.6], "nice": false, "zero": false}}, "y": {"datum": 38900, "type": "quantitative", "scale": {"domain": [0, 59000], "nice": false}}}},
   {"data": {"values": [{}]}, "mark": {"type": "text", "text": "133 > 89", "font": "Liberation Serif", "fontSize": 13, "fontWeight": "normal", "align": "left", "dx": 2}, "encoding": {"x": {"datum": 6.07, "type": "quantitative", "scale": {"domain": [4.69, 6.6], "nice": false, "zero": false}}, "y": {"datum": 38900, "type": "quantitative", "scale": {"domain": [0, 59000], "nice": false}}}}
  ]}
 ]},
 {"bounds": "flush", "spacing": 74, "vconcat": [
  {"width": 240, "height": 80, "title": {"text": "D", "offset": 7}, "layer": [
   {"data": {"name": "D1"}, "mark": {"type": "line"}, "encoding": {"x": {"field": "t", "type": "quantitative", "scale": {"domain": [4.68, 6.64], "nice": false, "zero": false}, "axis": {"values": [5, 5.5, 6, 6.5], "format": ".1f", "title": null}}, "y": {"field": "v", "type": "quantitative", "scale": {"domain": [0, 600], "nice": false}, "axis": {"values": [0, 200, 400, 600], "format": "d", "title": "Intensity, cps", "titleX": -48, "titleY": 40}}}},
   {"data": {"name": "D1L"}, "mark": {"type": "text"}, "encoding": {"x": {"field": "t", "type": "quantitative", "scale": {"domain": [4.68, 6.64], "nice": false, "zero": false}}, "y": {"field": "v", "type": "quantitative", "scale": {"domain": [0, 600], "nice": false}}, "text": {"field": "label"}}},
   {"data": {"values": [{}]}, "mark": {"type": "text", "text": "Melamine", "font": "Liberation Serif", "fontSize": 13, "fontWeight": "normal"}, "encoding": {"x": {"datum": 6.29, "type": "quantitative", "scale": {"domain": [4.68, 6.64], "nice": false, "zero": false}}, "y": {"datum": 600, "type": "quantitative", "scale": {"domain": [0, 600], "nice": false}}}},
   {"data": {"values": [{}]}, "mark": {"type": "text", "text": "m/z", "font": "Liberation Serif", "fontSize": 13, "fontWeight": "normal", "fontStyle": "italic", "align": "right", "dx": -2}, "encoding": {"x": {"datum": 6.19, "type": "quantitative", "scale": {"domain": [4.68, 6.64], "nice": false, "zero": false}}, "y": {"datum": 467, "type": "quantitative", "scale": {"domain": [0, 600], "nice": false}}}},
   {"data": {"values": [{}]}, "mark": {"type": "text", "text": "127 > 85", "font": "Liberation Serif", "fontSize": 13, "fontWeight": "normal", "align": "left", "dx": 2}, "encoding": {"x": {"datum": 6.19, "type": "quantitative", "scale": {"domain": [4.68, 6.64], "nice": false, "zero": false}}, "y": {"datum": 467, "type": "quantitative", "scale": {"domain": [0, 600], "nice": false}}}}
  ]},
  {"width": 240, "height": 80, "layer": [
   {"data": {"name": "D2"}, "mark": {"type": "line"}, "encoding": {"x": {"field": "t", "type": "quantitative", "scale": {"domain": [4.68, 6.64], "nice": false, "zero": false}, "axis": {"values": [5, 5.5, 6, 6.5], "format": ".1f", "title": null}}, "y": {"field": "v", "type": "quantitative", "scale": {"domain": [0, 390], "nice": false}, "axis": {"values": [0, 100, 200, 300, 390], "format": "d", "title": "Intensity, cps", "titleX": -48, "titleY": 40}}}},
   {"data": {"name": "D2L"}, "mark": {"type": "text"}, "encoding": {"x": {"field": "t", "type": "quantitative", "scale": {"domain": [4.68, 6.64], "nice": false, "zero": false}}, "y": {"field": "v", "type": "quantitative", "scale": {"domain": [0, 390], "nice": false}}, "text": {"field": "label"}}},
   {"data": {"values": [{}]}, "mark": {"type": "text", "text": "Melamine", "font": "Liberation Serif", "fontSize": 13, "fontWeight": "normal"}, "encoding": {"x": {"datum": 6.13, "type": "quantitative", "scale": {"domain": [4.68, 6.64], "nice": false, "zero": false}}, "y": {"datum": 362, "type": "quantitative", "scale": {"domain": [0, 390], "nice": false}}}},
   {"data": {"values": [{}]}, "mark": {"type": "text", "text": "m/z", "font": "Liberation Serif", "fontSize": 13, "fontWeight": "normal", "fontStyle": "italic", "align": "right", "dx": -2}, "encoding": {"x": {"datum": 6.09, "type": "quantitative", "scale": {"domain": [4.68, 6.64], "nice": false, "zero": false}}, "y": {"datum": 296, "type": "quantitative", "scale": {"domain": [0, 390], "nice": false}}}},
   {"data": {"values": [{}]}, "mark": {"type": "text", "text": "127 > 68", "font": "Liberation Serif", "fontSize": 13, "fontWeight": "normal", "align": "left", "dx": 2}, "encoding": {"x": {"datum": 6.09, "type": "quantitative", "scale": {"domain": [4.68, 6.64], "nice": false, "zero": false}}, "y": {"datum": 296, "type": "quantitative", "scale": {"domain": [0, 390], "nice": false}}}}
  ]},
  {"width": 240, "height": 80, "layer": [
   {"data": {"name": "D3"}, "mark": {"type": "line", "interpolate": "monotone", "strokeWidth": 1.3}, "encoding": {"x": {"field": "t", "type": "quantitative", "scale": {"domain": [4.68, 6.64], "nice": false, "zero": false}, "axis": {"values": [5, 5.5, 6, 6.5], "format": ".1f", "title": null}}, "y": {"field": "v", "type": "quantitative", "scale": {"domain": [0, 54000], "nice": false}, "axis": {"values": [0, 20000, 40000, 54000], "labelExpr": "datum.value==0?'0.0':format(datum.value/10000,'.1f')+'e4'", "title": "Intensity, cps", "titleX": -48, "titleY": 40}}}},
   {"data": {"name": "D3L"}, "mark": {"type": "text"}, "encoding": {"x": {"field": "t", "type": "quantitative", "scale": {"domain": [4.68, 6.64], "nice": false, "zero": false}}, "y": {"field": "v", "type": "quantitative", "scale": {"domain": [0, 54000], "nice": false}}, "text": {"field": "label"}}},
   {"data": {"values": [{}]}, "mark": {"type": "text", "text": "¹³C₃¹⁵N₃Melamine", "font": "Liberation Serif", "fontSize": 13, "fontWeight": "normal"}, "encoding": {"x": {"datum": 6.08, "type": "quantitative", "scale": {"domain": [4.68, 6.64], "nice": false, "zero": false}}, "y": {"datum": 42300, "type": "quantitative", "scale": {"domain": [0, 54000], "nice": false}}}},
   {"data": {"values": [{}]}, "mark": {"type": "text", "text": "m/z", "font": "Liberation Serif", "fontSize": 13, "fontWeight": "normal", "fontStyle": "italic", "align": "right", "dx": -2}, "encoding": {"x": {"datum": 5.95, "type": "quantitative", "scale": {"domain": [4.68, 6.64], "nice": false, "zero": false}}, "y": {"datum": 32900, "type": "quantitative", "scale": {"domain": [0, 54000], "nice": false}}}},
   {"data": {"values": [{}]}, "mark": {"type": "text", "text": "133 > 89", "font": "Liberation Serif", "fontSize": 13, "fontWeight": "normal", "align": "left", "dx": 2}, "encoding": {"x": {"datum": 5.95, "type": "quantitative", "scale": {"domain": [4.68, 6.64], "nice": false, "zero": false}}, "y": {"datum": 32900, "type": "quantitative", "scale": {"domain": [0, 54000], "nice": false}}}}
  ]}
 ]}
 ]}
 ]}
]
}
